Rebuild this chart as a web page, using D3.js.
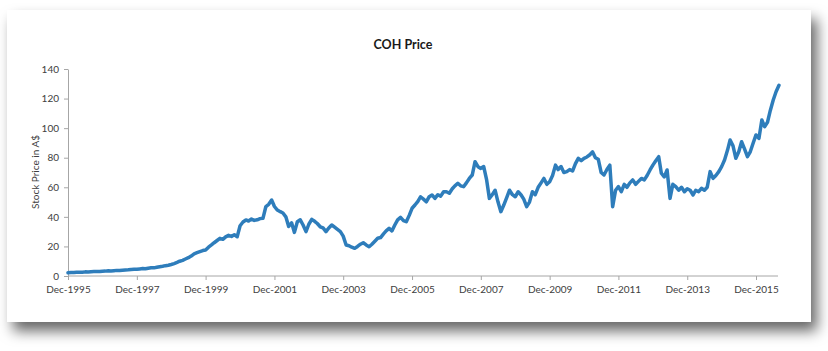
<!DOCTYPE html>
<html><head><meta charset="utf-8">
<script src="https://cdn.jsdelivr.net/npm/d3@7"></script>
<style>
html,body{margin:0;padding:0;background:#fff;}
svg{display:block;font-family:Lato, "Open Sans", sans-serif;}
</style></head>
<body>
<svg id="c" width="828" height="351"></svg>
<script>
// Monthly closing prices (A$), starting Dec-1995
const startYear = 1995, startMonth = 11;
const prices = [
  2.2,2.4,2.3,2.5,2.6,2.5,2.8,2.7,2.9,3.0,3.1,3.0,
  3.2,3.3,3.5,3.4,3.6,3.8,3.7,3.9,4.1,4.2,4.4,4.5,
  4.6,4.8,5.0,4.9,5.3,5.6,5.5,5.9,6.3,6.6,7.0,7.3,
  7.8,8.4,9.2,10.0,10.6,11.5,12.4,13.5,15.0,15.8,16.5,17.2,
  17.6,19.5,21.0,22.5,24.0,25.5,24.8,26.5,27.5,26.8,27.9,26.6,
  34.0,36.5,37.9,37.2,38.5,37.6,38.0,38.8,39.0,47.0,48.5,51.4,
  47.0,44.6,43.5,42.6,40.0,33.5,36.0,29.5,36.7,38.0,34.5,30.0,
  35.0,38.3,37.0,35.5,33.3,32.5,30.0,32.5,34.5,33.0,31.5,30.0,
  27.0,21.0,20.5,19.5,18.7,20.0,21.5,22.5,21.0,19.8,21.5,23.5,
  25.5,26.0,28.5,30.5,32.2,30.5,34.5,38.0,39.7,37.5,36.7,41.0,
  45.8,48.0,50.5,53.6,52.0,50.2,53.6,54.8,52.5,55.0,54.0,57.0,
  57.0,56.0,59.0,61.0,62.7,61.0,60.4,63.0,66.0,68.3,77.3,73.9,
  72.8,74.0,65.0,52.5,55.0,58.0,50.0,43.5,48.0,53.0,58.0,55.0,
  53.6,57.0,54.8,52.0,46.9,50.0,57.0,55.0,60.0,63.0,66.0,62.0,
  63.8,68.0,75.0,72.0,74.0,70.0,70.6,72.0,71.0,76.0,79.6,78.0,
  79.6,80.5,82.0,84.0,80.0,79.0,70.0,68.3,72.0,75.0,46.9,58.0,
  60.4,57.0,62.0,60.0,63.0,65.0,62.0,64.0,66.0,65.0,68.0,71.7,
  75.0,78.0,80.7,69.5,67.0,71.7,52.5,62.0,60.4,58.0,60.0,57.0,
  59.0,58.0,54.8,58.0,57.0,59.3,58.0,60.0,70.6,66.0,68.0,70.6,
  74.0,78.5,85.0,92.0,88.0,79.6,84.0,90.8,86.0,80.7,84.0,90.0,
  95.4,93.0,105.5,101.0,104.0,112.0,119.0,124.6,129.0
];
const yTicks = [0,20,40,60,80,100,120,140];
const xTickYears = [1995,1997,1999,2001,2003,2005,2007,2009,2011,2013,2015];
const titleText = "COH Price";
const yLabel = "Stock Price in A$";

const data = prices.map((v,i)=>({date:new Date(startYear, startMonth+i, 1), value:v}));

const svg = d3.select("#c");
const defs = svg.append("defs");
const f = defs.append("filter").attr("id","sh").attr("x","-5%").attr("y","-10%").attr("width","115%").attr("height","135%");
f.append("feDropShadow").attr("dx",6).attr("dy",9).attr("stdDeviation",7).attr("flood-color","#000").attr("flood-opacity",0.6);

svg.append("rect").attr("x",7).attr("y",10).attr("width",804).attr("height",312)
  .attr("fill","#fff").attr("filter","url(#sh)");

const x = d3.scaleTime()
  .domain([new Date(1995,11,1), new Date(2015,11,1)])
  .range([68, 756]);
const y = d3.scaleLinear().domain([0,140]).range([276, 69]);

const axisColor = "#a6a6a6", textColor = "#404040";

// Y axis
const ya = svg.append("g").attr("transform","translate(68,0)")
  .call(d3.axisLeft(y).tickValues(yTicks).tickSize(4).tickSizeOuter(0).tickPadding(5));
ya.select(".domain").attr("stroke",axisColor);
ya.selectAll(".tick line").attr("stroke",axisColor);
ya.selectAll(".tick text").attr("fill",textColor).style("font-size","10px").style("font-family","Lato, 'Open Sans', sans-serif");

// X axis
const xa = svg.append("g").attr("transform","translate(0,276)")
  .call(d3.axisBottom(x).tickValues(xTickYears.map(yr=>new Date(yr,11,1)))
    .tickFormat(d3.timeFormat("Dec-%Y")).tickSize(4).tickSizeOuter(0).tickPadding(6));
xa.select(".domain").attr("d","M68,0H778").attr("stroke",axisColor);
xa.selectAll(".tick line").attr("stroke",axisColor);
xa.selectAll(".tick text").attr("fill",textColor).style("font-size","10px").style("font-family","Lato, 'Open Sans', sans-serif");

// Line
const line = d3.line().x(d=>x(d.date)).y(d=>y(d.value));
svg.append("path").datum(data).attr("d",line)
  .attr("fill","none").attr("stroke","#2e7dbb").attr("stroke-width",3.5)
  .attr("stroke-linejoin","round").attr("stroke-linecap","round");

// Title
svg.append("text").attr("x",403).attr("y",49).attr("text-anchor","middle")
  .attr("fill","#1a1a1a").style("font-size","12.5px").style("font-weight","bold").text(titleText);

// Y label
svg.append("text").attr("transform","translate(39,172) rotate(-90)").attr("text-anchor","middle")
  .attr("fill",textColor).style("font-size","10px").text(yLabel);
</script>
</body></html>
